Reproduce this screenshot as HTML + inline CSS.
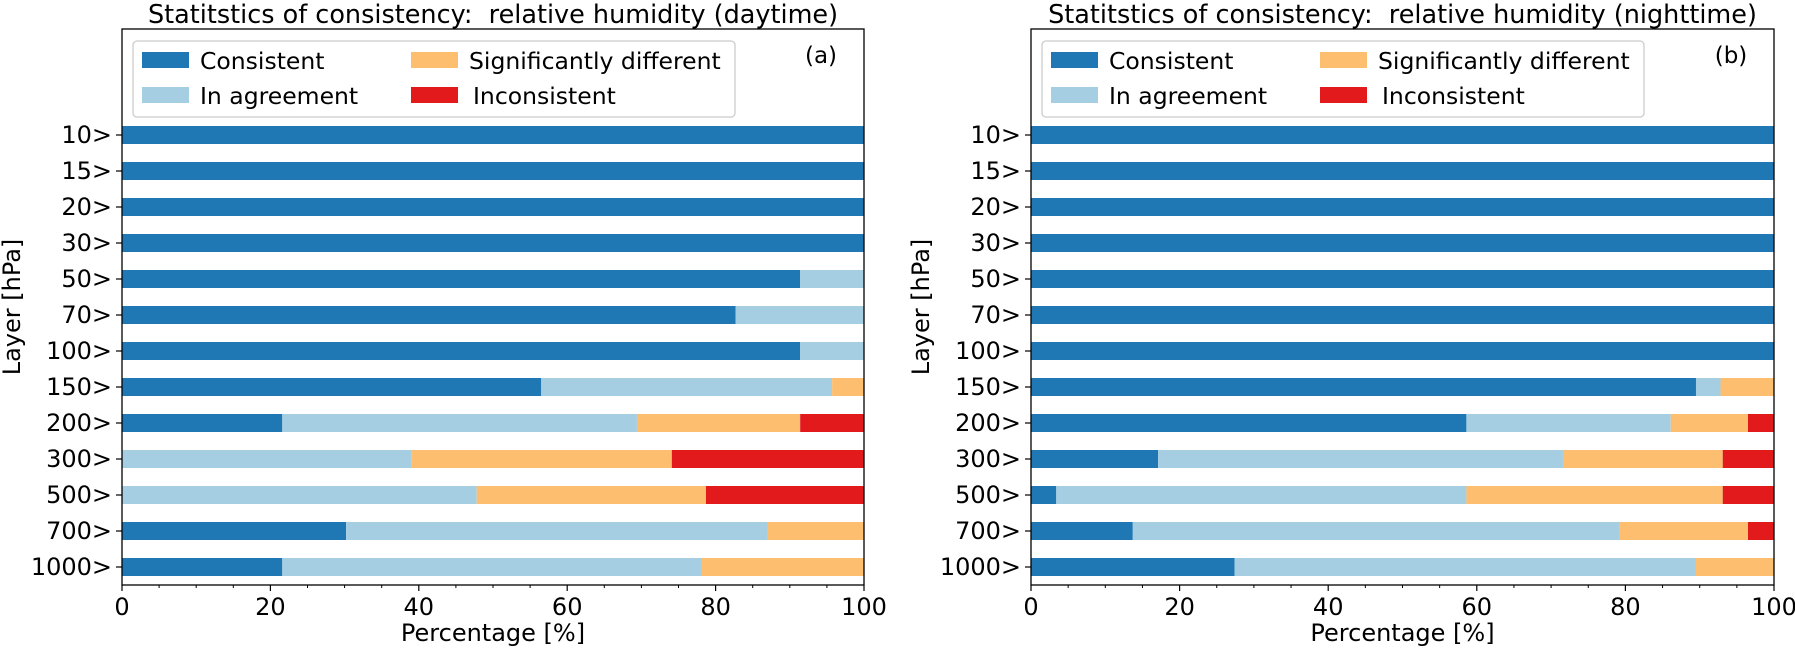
<!DOCTYPE html>
<html><head><meta charset="utf-8"><style>
html,body{margin:0;padding:0;background:#fff;}
svg{display:block;font-family:"DejaVu Sans","Liberation Sans",sans-serif;}
svg text{white-space:pre;}
</style></head><body>
<svg id="chart" width="1795" height="649" viewBox="0 0 1795 649" xmlns="http://www.w3.org/2000/svg"></svg>
<script>
const layers = ["10>","15>","20>","30>","50>","70>","100>","150>","200>","300>","500>","700>","1000>"];
const seriesNames = ["Consistent","In agreement","Significantly different","Inconsistent"];
const colors = ["#1f78b4","#a6cee3","#fdbf6f","#e31a1c"];
const dayConsistent = [100,100,100,100,91.4,82.7,91.4,56.5,21.6,0,0,30.2,21.6];
const dayAgreement  = [0,0,0,0,8.6,17.3,8.6,39.2,47.8,39.0,47.8,56.8,56.5];
const daySignif     = [0,0,0,0,0,0,0,4.3,22.0,35.1,30.9,13.0,21.9];
const dayIncons     = [0,0,0,0,0,0,0,0,8.6,25.9,21.3,0,0];
const nightConsistent = [100,100,100,100,100,100,100,89.5,58.6,17.1,3.4,13.7,27.4];
const nightAgreement  = [0,0,0,0,0,0,0,3.3,27.5,54.5,55.2,65.5,62.1];
const nightSignif     = [0,0,0,0,0,0,0,7.2,10.4,21.5,34.5,17.3,10.5];
const nightIncons     = [0,0,0,0,0,0,0,0,3.5,6.9,6.9,3.5,0];
const xTicks = [0,20,40,60,80,100];

const svg = document.getElementById('chart');
const NS = "http://www.w3.org/2000/svg";
function mk(tag, attrs, parent){const e=document.createElementNS(NS,tag);for(const k in attrs)e.setAttribute(k,attrs[k]);(parent||svg).appendChild(e);return e;}

function panel(x0, x1, title, tag, data, key){
  const top=29, bottom=585;
  const g = mk('g',{});
  
  
  const xs = v => x0 + (x1-x0)*v/100;
  const yc = i => 135 + i*36;
  const bh = 18;
  for(let i=0;i<layers.length;i++){
    let acc=0;
    for(let s=0;s<4;s++){
      const v=data[s][i];
      if(v>0){
        const r=mk('rect',{x:xs(acc),y:yc(i)-bh/2,width:xs(acc+v)-xs(acc),height:bh,fill:colors[s]},g);
        
        
      }
      acc+=v;
    }
    mk('line',{x1:x0-6,x2:x0,y1:yc(i),y2:yc(i),stroke:'#000','stroke-width':1.2},g);
    const t=mk('text',{x:x0-10,y:yc(i)+8,'text-anchor':'end','font-size':24},g);
    t.textContent=layers[i];
    
    
  }
  mk('rect',{x:x0,y:top,width:x1-x0,height:bottom-top,fill:'none',stroke:'#000','stroke-width':1.3},g);
  for(let v=0;v<=100;v+=5){
    if(v%20===0) continue;
    mk('line',{x1:xs(v),x2:xs(v),y1:bottom,y2:bottom+3,stroke:'#000','stroke-width':1},g);
  }
  xTicks.forEach(v=>{
    mk('line',{x1:xs(v),x2:xs(v),y1:bottom,y2:bottom+6,stroke:'#000','stroke-width':1.2},g);
    const t=mk('text',{x:xs(v),y:bottom+30,'text-anchor':'middle','font-size':24},g);
    t.textContent=v;
    
    
  });
  const xl=mk('text',{x:(x0+x1)/2,y:641,'text-anchor':'middle','font-size':24},g);
  xl.textContent='Percentage [%]';
  
  
  const yl=mk('text',{x:0,y:0,'text-anchor':'middle','font-size':24,transform:`translate(${x0-102},${(top+bottom)/2}) rotate(-90)`},g);
  yl.textContent='Layer [hPa]';
  
  
  const tt=mk('text',{x:(x0+x1)/2,y:23,'text-anchor':'middle','font-size':25.5},g);
  tt.textContent=title;
  
  
  const pl=mk('text',{x:x1-43,y:63,'text-anchor':'middle','font-size':23},g);
  pl.textContent=tag;
  
  
  const lg=mk('g',{},g);
  
  
  mk('rect',{x:x0+11,y:41,width:602,height:76,rx:4,fill:'#fff',stroke:'#ccc','stroke-width':1.3},lg);
  const pos=[[0,0],[0,1],[1,0],[1,1]];
  for(let s=0;s<4;s++){
    const px=x0+20+pos[s][0]*269, py=52+pos[s][1]*35;
    mk('rect',{x:px,y:py,width:47,height:16,fill:colors[s]},lg);
    const t=mk('text',{x:px+58+(s===3?4:0),y:py+17,'font-size':23.5},lg);
    t.textContent=seriesNames[s];
    
    
  }
}
panel(122,864,'Statitstics of consistency:  relative humidity (daytime)','(a)',[dayConsistent,dayAgreement,daySignif,dayIncons],'day');
panel(1031,1774,'Statitstics of consistency:  relative humidity (nighttime)','(b)',[nightConsistent,nightAgreement,nightSignif,nightIncons],'night');
</script>
</body></html>
